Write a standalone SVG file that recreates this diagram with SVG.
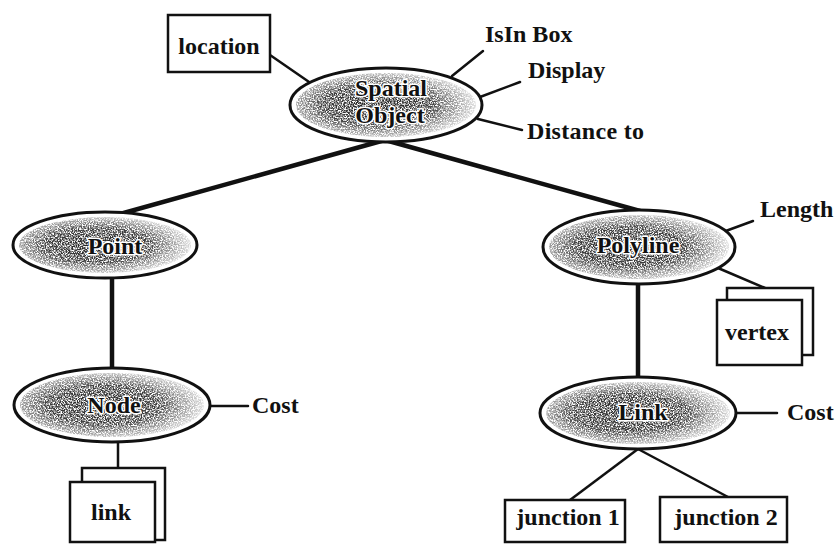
<svg xmlns="http://www.w3.org/2000/svg" width="838" height="544" viewBox="0 0 838 544">
<style>
  .lbl{font-family:"Liberation Serif","Times New Roman",serif;font-weight:bold;font-size:24px;fill:#111;}
  .c{text-anchor:middle;}
  .halo{stroke:#fff;stroke-width:3;paint-order:stroke;stroke-linejoin:round;}
  .ell{fill:#fff;stroke:#111;stroke-width:3;}
  .spk{fill:url(#grad);filter:url(#speckle);}
  .box{fill:#fff;stroke:#111;stroke-width:2.5;}
  .thick{stroke:#111;stroke-width:4.5;fill:none;stroke-linecap:round;}
  .thin{stroke:#111;stroke-width:2.5;fill:none;stroke-linecap:round;}
</style>
<defs>
  <radialGradient id="grad" cx="45%" cy="50%" r="55%">
    <stop offset="0%" stop-color="#222" stop-opacity="1"/>
    <stop offset="55%" stop-color="#333" stop-opacity="0.95"/>
    <stop offset="100%" stop-color="#555" stop-opacity="0.2"/>
  </radialGradient>
  <filter id="speckle" x="0" y="0" width="100%" height="100%">
    <feTurbulence type="fractalNoise" baseFrequency="0.75" numOctaves="2" seed="7" result="t"/>
    <feColorMatrix in="t" type="matrix" values="0 0 0 0 0  0 0 0 0 0  0 0 0 0 0  3.4 0 0 0 -1.1" result="m"/>
    <feComposite in="SourceGraphic" in2="m" operator="in"/>
  </filter>
</defs>
<rect width="838" height="544" fill="#fff"/>
<g id="connectors">
  <line class="thin" x1="270" y1="55" x2="312" y2="84"/>
  <line class="thin" x1="452" y1="76" x2="483" y2="51"/>
  <line class="thin" x1="480" y1="97" x2="520" y2="82"/>
  <line class="thin" x1="478" y1="119" x2="522" y2="130"/>
  <line class="thick" x1="385" y1="140" x2="120" y2="214"/>
  <line class="thick" x1="385" y1="140" x2="640" y2="211"/>
  <line class="thin" x1="723" y1="232" x2="753" y2="221"/>
  <line class="thin" x1="718" y1="268" x2="765" y2="288"/>
  <line class="thick" x1="638" y1="284" x2="638" y2="377"/>
  <line class="thick" x1="112" y1="278" x2="112" y2="368"/>
  <line class="thin" x1="211" y1="406" x2="248" y2="406"/>
  <line class="thin" x1="118" y1="442" x2="118" y2="468"/>
  <line class="thin" x1="736" y1="413" x2="777" y2="413"/>
  <line class="thin" x1="638" y1="449" x2="570" y2="500"/>
  <line class="thin" x1="638" y1="449" x2="728" y2="497"/>
</g>
<g id="location">
  <rect class="box" x="168" y="15" width="102" height="57"/>
  <text class="lbl c" x="219" y="54">location</text>
</g>
<g id="spatial-object">
  <ellipse class="ell" cx="386" cy="105" rx="96" ry="37"/>
  <ellipse class="spk" cx="386" cy="105" rx="90" ry="32"/>
  <text class="lbl c halo" x="391" y="96">Spatial</text>
  <text class="lbl c halo" x="390" y="123">Object</text>
</g>
<g id="isin-box"><text class="lbl" x="485" y="42">IsIn Box</text></g>
<g id="display"><text class="lbl" x="528" y="78">Display</text></g>
<g id="distance-to"><text class="lbl" x="527" y="139" textLength="117">Distance to</text></g>
<g id="point">
  <ellipse class="ell" cx="105" cy="245" rx="92" ry="33"/>
  <ellipse class="spk" cx="105" cy="245" rx="86" ry="28"/>
  <text class="lbl c halo" x="115" y="254">Point</text>
</g>
<g id="polyline">
  <ellipse class="ell" cx="639" cy="247" rx="96" ry="37"/>
  <ellipse class="spk" cx="639" cy="247" rx="90" ry="32"/>
  <text class="lbl c halo" x="638" y="253">Polyline</text>
</g>
<g id="length"><text class="lbl" x="760" y="217">Length</text></g>
<g id="vertex">
  <rect class="box" x="727" y="288" width="86" height="67"/>
  <rect class="box" x="717" y="300" width="85" height="65"/>
  <text class="lbl c" x="757" y="340">vertex</text>
</g>
<g id="node">
  <ellipse class="ell" cx="112" cy="405" rx="98" ry="37"/>
  <ellipse class="spk" cx="112" cy="405" rx="92" ry="32"/>
  <text class="lbl c halo" x="114" y="413">Node</text>
</g>
<g id="node-cost"><text class="lbl" x="252" y="413">Cost</text></g>
<g id="link-box">
  <rect class="box" x="82" y="468" width="83" height="72"/>
  <rect class="box" x="70" y="482" width="85" height="60"/>
  <text class="lbl c" x="111" y="520">link</text>
</g>
<g id="link">
  <ellipse class="ell" cx="638" cy="413" rx="98" ry="36"/>
  <ellipse class="spk" cx="638" cy="413" rx="92" ry="31"/>
  <text class="lbl c halo" x="643" y="420">Link</text>
</g>
<g id="link-cost"><text class="lbl" x="787" y="420">Cost</text></g>
<g id="junction-1">
  <rect class="box" x="505" y="500" width="120" height="42"/>
  <text class="lbl c" x="568" y="525">junction 1</text>
</g>
<g id="junction-2">
  <rect class="box" x="660" y="497" width="127" height="45"/>
  <text class="lbl c" x="726" y="525">junction 2</text>
</g>
</svg>
